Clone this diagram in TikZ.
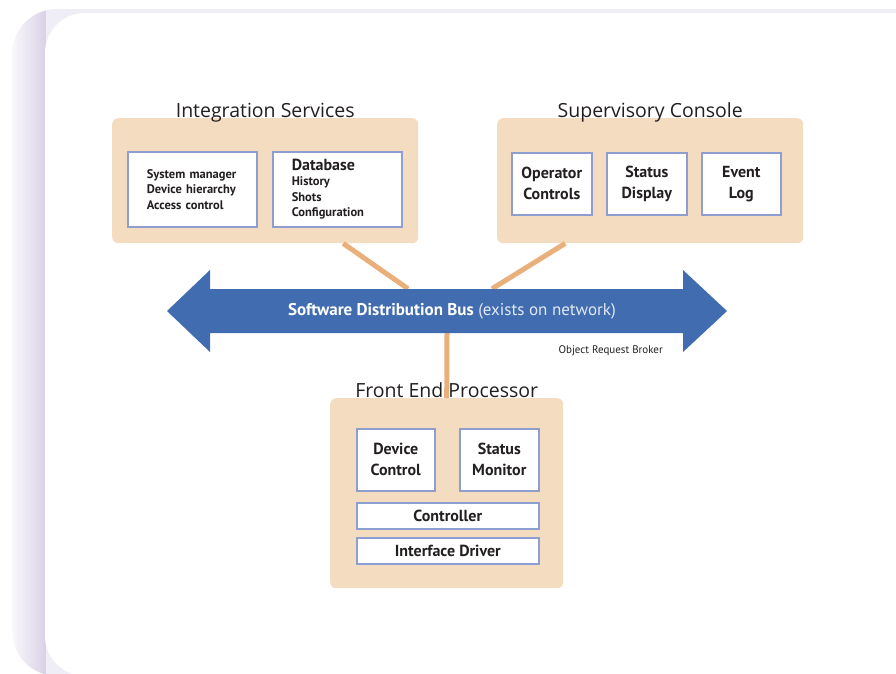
\documentclass[tikz,border=0pt]{standalone}
\usepackage{fontspec}
\setmainfont{PT Sans}
\newfontfamily\titlefont{Open Sans}
\usetikzlibrary{positioning}

\definecolor{peach}{HTML}{F4DCC1}
\definecolor{boxline}{HTML}{8E9ED3}
\definecolor{busblue}{HTML}{416CB0}
\definecolor{linkpeach}{HTML}{E9B07C}
\definecolor{ink}{HTML}{231F20}
\definecolor{lilac}{HTML}{D8D1E6}

\tikzset{%
  panel/.style={fill=peach, rounded corners=6pt, anchor=north west, inner sep=0pt},
  heading/.style={font=\titlefont\fontsize{19.5}{21}\selectfont, text=ink, anchor=base},
  unit/.style={draw=boxline, line width=1.6pt, fill=white, inner sep=0pt, anchor=north west, align=center, text=ink, font=\bfseries\fontsize{16}{21}\selectfont},
  listunit/.style={unit, text width=91pt, inner xsep=19pt, align=left, minimum height=75pt, font=\bfseries\fontsize{12.5}{15.5}\selectfont},
  bar/.style={unit, minimum width=182pt, minimum height=26pt},
  link/.style={draw=linkpeach, line width=5pt},
  bustext/.style={minimum width=473pt, minimum height=44pt, inner sep=0pt, text=white, font=\fontsize{17}{19}\selectfont},
  note/.style={text=ink, font=\fontsize{11}{13}\selectfont, inner sep=0pt},
}

\begin{document}
\begin{tikzpicture}[x=1pt,y=-1pt]
\useasboundingbox (0,0) rectangle (896,673);
\clip (0,0) rectangle (896,673);

% card in the background
\begin{scope}
  \clip[rounded corners=45pt] (12,9) rectangle (960,676);
  \shade[left color=lilac!15, right color=lilac] (12,9) rectangle (46,676);
  \fill[lilac!40] (46,9) rectangle (960,676);
\end{scope}
\fill[white, rounded corners=40pt] (45,13) rectangle (960,676);

% the three groups
\node[panel, minimum width=306pt, minimum height=125pt] (intg) at (112,118) {};
\node[panel, minimum width=306pt, minimum height=125pt] (scon) at (497,118) {};
\node[panel, minimum width=233pt, minimum height=190pt] (fep) at (330,398) {};

% bus
\node[bustext] (bus) at (447,311) {};

% links to the bus
\draw[link] ([xshift=78pt]intg.south) -- ([xshift=-39pt]bus.north);
\draw[link] ([xshift=-85pt]scon.south) -- ([xshift=45pt]bus.north);
\draw[link] (bus.south) -- (fep.north);

\fill[busblue] (167,311) -- (210,270) -- (210,289) -- (683,289) -- (683,270)
  -- (727,311) -- (683,352) -- (683,333) -- (210,333) -- (210,352) -- cycle;
\node[bustext] at ([xshift=5pt]bus.center) {\textbf{Software Distribution Bus} {\color{white!85!busblue}(exists on network)}};
\node[note, anchor=base east] (orb) at (663,353) {Object Request Broker};

% titles
\node[heading] (intgtitle) at ([yshift=0.5pt]intg.north) {Integration Services};
\node[heading] (scontitle) at ([yshift=0.5pt]scon.north) {Supervisory Console};
\node[heading] (feptitle) at ([yshift=0.5pt]fep.north) {Front End Processor};

% Integration Services
\node[listunit] (sysman) at (127,151) {System manager\\Device hierarchy\\Access control};
\node[listunit] (dbase) at (272,151) {{\fontsize{16}{18}\selectfont Database}\\History\\Shots\\Configuration};

% Supervisory Console
\node[unit, minimum width=80pt, minimum height=62pt] (opctl) at (511,152) {Operator\\Controls};
\node[unit, minimum width=80pt, minimum height=62pt] (stdisp) at (606,152) {Status\\Display};
\node[unit, minimum width=79pt, minimum height=62pt] (evlog) at (701,152) {Event\\Log};

% Front End Processor
\node[unit, minimum width=78pt, minimum height=62pt] (devctl) at (356,428) {Device\\Control};
\node[unit, minimum width=79pt, minimum height=62pt] (stmon) at (459,428) {Status\\Monitor};
\node[bar] (ctrl) at (356,502) {Controller};
\node[bar] (ifdrv) at (356,537) {Interface Driver};
\end{tikzpicture}
\end{document}
